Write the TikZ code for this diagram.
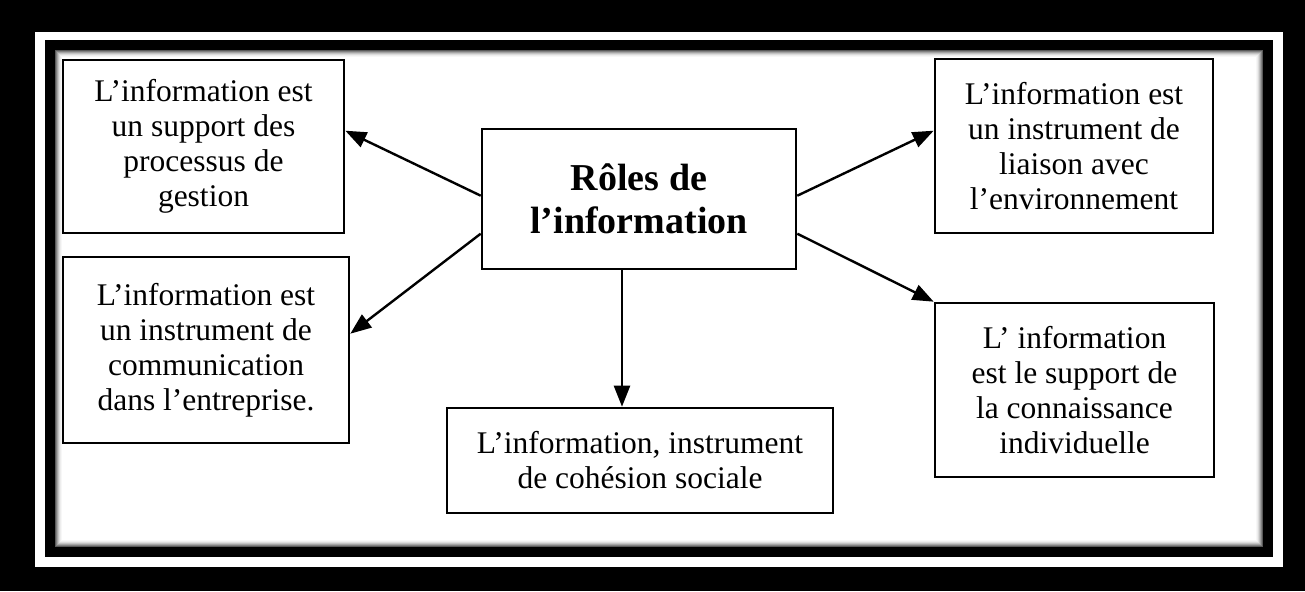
\documentclass[tikz,border=0pt]{standalone}
\usepackage{fontspec}
\setmainfont{Liberation Serif}
\usetikzlibrary{arrows.meta}
\tikzset{
  box/.style={draw, line width=2.6pt, fill=white, align=center, inner sep=0pt,
    font=\fontsize{31.5}{35}\selectfont},
  title/.style={box, font=\fontsize{38}{43}\selectfont\bfseries},
  arr/.style={line width=2.4pt, -{Triangle[length=21pt,width=16pt]}}
}
\begin{document}
\begin{tikzpicture}[x=1pt,y=-1pt]
\useasboundingbox (0,0) rectangle (1305,591);
% frame
\fill[black] (0,0) rectangle (1305,591);
\fill[white] (35,32) rectangle (1283,567);
\fill[black] (45,40) rectangle (1273,557);
\foreach \i/\c in {0/65,1/50,2/36,3/24,4/14,5/7,6/3,7/0}{
  \fill[black!\c] (55+\i,50+\i) rectangle (1263-\i,547-\i);
}
% nodes
\node[title, minimum width=314pt, minimum height=140pt] (c) at (639,199) {Rôles de\\l’information};
\node[box, minimum width=281pt, minimum height=173pt] (b1) at (203.5,146.5) {L’information est\\un support des\\processus de\\gestion};
\node[box, minimum width=286pt, minimum height=186pt] (b2) at (206,350) {L’information est\\un instrument de\\communication\\dans l’entreprise.};
\node[box, minimum width=386pt, minimum height=105pt] (b3) at (640,460.5) {L’information, instrument\\de cohésion sociale};
\node[box, minimum width=278pt, minimum height=174pt] (b4) at (1074,146) {L’information est\\un instrument de\\liaison avec\\l’environnement};
\node[box, minimum width=279pt, minimum height=174pt] (b5) at (1074.5,390) {L’ information\\est le support de\\la connaissance\\individuelle};
% connectors
\draw[arr] ([yshift=-68pt]c.north west) -- ([yshift=-72pt]b1.north east);
\draw[arr] ([yshift=-106pt]c.north west) -- ([yshift=-78pt]b2.north east);
\draw[arr] ([yshift=-68pt]c.north east) -- ([yshift=-73pt]b4.north west);
\draw[arr] ([yshift=-106pt]c.north east) -- (b5.north west);
\draw[arr] ([xshift=-17pt]c.south) -- ([xshift=-17pt]c.south |- b3.north);
\end{tikzpicture}
\end{document}
